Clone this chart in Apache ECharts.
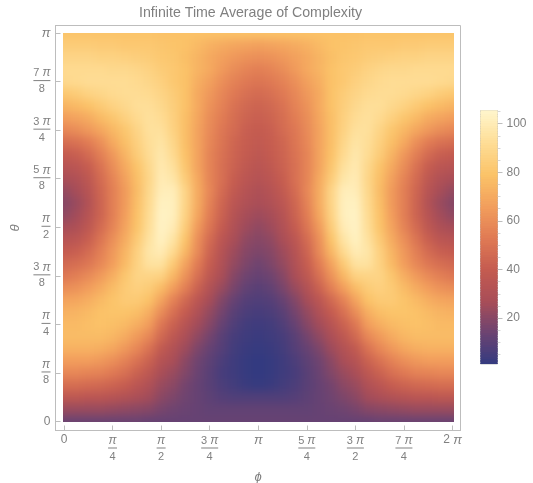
<!DOCTYPE html>
<html><head><meta charset="utf-8">
<style>html,body{margin:0;background:#fff}#c{width:533px;height:483px}</style>
<script src="https://cdn.jsdelivr.net/npm/echarts@6/dist/echarts.min.js"></script></head>
<body><div id="c"></div>
<script>
const titleText='Infinite Time Average of Complexity';
// phi and theta positions in units of pi/8
const phiStep=0.5, thetaStep=0.25;
const phiTicks=[0,2,4,6,8,10,12,14,16];
const thetaTicks=[0,1,2,3,4,5,6,7,8];
const phiLabels=['0','{n|π}\n{l|}\n{d|4}','{n|π}\n{l|}\n{d|2}','{m|3 }{n|π}\n{w|}\n{d|4}','{n2|π}','{m|5 }{n|π}\n{w|}\n{d|4}','{m|3 }{n|π}\n{w|}\n{d|2}','{m|7 }{n|π}\n{w|}\n{d|4}','{m2|2 }{n2|π}'];
const thetaLabels=['0','{n|π}\n{l|}\n{d|8}','{n|π}\n{l|}\n{d|4}','{m|3 }{n|π}\n{w|}\n{d|8}','{n|π}\n{l|}\n{d|2}','{m|5 }{n|π}\n{w|}\n{d|8}','{m|3 }{n|π}\n{w|}\n{d|4}','{m|7 }{n|π}\n{w|}\n{d|8}','{n2|π}'];
const barTicks=[20,40,60,80,100];
const barMinorTicks=[5,10,15,25,30,35,45,50,55,65,70,75,85,90,95,105];
const barLevels=[1,2,3,4,5,6,7,8,9,10,11,12,13,14,15,16,17,18,19,20,21,22,23,24,25,26,27,28,29,30,31,32,33,34,35,36,37,38,39,40,41,42,43,44,45,46,47,48,49,50,51,52,53,54,55,56,57,58,59,60,61,62,63,64,65,66,67,68,69,70,71,72,73,74,75,76,77,78,79,80,81,82,83,84,85,86,87,88,89,90,91,92,93,94,95,96,97,98,99,100,101,102,103,104,105,106];
const barStops=['#323a80','#6b4372','#a84d58','#c45b50','#e07a54','#f29e5c','#fbc368','#fedd95','#fff5cb'];
// complexity, rows from theta=pi (top) down to theta=0, columns from phi=0 to 2pi
const values=[
[80,80,80,80,80,80,80,80,79,79,79,79,79,79,79,79,79,79,79,79,79,79,79,79,79,80,80,80,80,80,80,80,80],
[84,84,84,83,83,82,82,82,81,80,79,76,73,71,69,68,67,68,69,71,73,76,79,80,81,82,82,82,83,83,84,84,84],
[88,88,88,87,87,86,85,84,82,81,78,74,70,67,64,62,61,62,64,67,70,74,78,81,82,84,85,86,87,87,88,88,88],
[91,91,91,91,90,90,89,87,84,82,79,74,70,65,60,57,55,57,60,65,70,74,79,82,84,87,89,90,90,91,91,91,91],
[90,91,92,92,92,92,91,89,86,82,79,72,67,61,56,53,51,53,56,61,67,72,79,82,86,89,91,92,92,92,92,91,90],
[82,84,87,89,91,92,92,91,88,84,79,70,64,58,53,49,47,49,53,58,64,70,79,84,88,91,92,92,91,89,87,84,82],
[74,76,79,83,87,90,93,93,90,85,79,70,62,56,50,46,44,46,50,56,62,70,79,85,90,93,93,90,87,83,79,76,74],
[66,68,71,76,81,86,91,94,92,86,78,69,60,54,48,44,42,44,48,54,60,69,78,86,92,94,91,86,81,76,71,68,66],
[58,60,64,69,75,81,88,94,94,87,78,68,59,52,47,42,40,42,47,52,59,68,78,87,94,94,88,81,75,69,64,60,58],
[48,50,54,61,70,78,86,93,96,89,78,68,58,51,45,41,39,41,45,51,58,68,78,89,96,93,86,78,70,61,54,50,48],
[40,42,47,55,64,74,84,92,98,91,79,68,57,50,44,40,37,40,44,50,57,68,79,91,98,92,84,74,64,55,47,42,40],
[34,36,41,50,60,70,80,90,99,94,81,68,57,49,43,38,35,38,43,49,57,68,81,94,99,90,80,70,60,50,41,36,34],
[28,31,37,47,57,67,78,89,100,97,84,70,57,49,41,36,33,36,41,49,57,70,84,97,100,89,78,67,57,47,37,31,28],
[23,27,34,45,55,65,77,90,101,101,88,71,58,47,39,33,30,33,39,47,58,71,88,101,101,90,77,65,55,45,34,27,23],
[20,24,32,44,55,65,78,91,103,102,88,71,56,45,36,31,28,31,36,45,56,71,88,102,103,91,78,65,55,44,32,24,20],
[22,26,34,44,55,66,79,92,104,102,87,69,54,43,33,27,25,27,33,43,54,69,87,102,104,92,79,66,55,44,34,26,22],
[27,30,37,47,57,68,80,93,104,100,84,65,51,40,31,25,22,25,31,40,51,65,84,100,104,93,80,68,57,47,37,30,27],
[34,36,42,51,61,71,83,95,103,96,80,61,47,36,28,22,20,22,28,36,47,61,80,96,103,95,83,71,61,51,42,36,34],
[40,42,47,55,64,74,86,97,100,91,75,59,44,33,25,20,18,20,25,33,44,59,75,91,100,97,86,74,64,55,47,42,40],
[46,48,52,58,66,76,87,95,95,83,68,54,41,31,23,18,15,18,23,31,41,54,68,83,95,95,87,76,66,58,52,48,46],
[52,55,59,65,72,81,88,88,87,75,62,49,37,28,20,15,13,15,20,28,37,49,62,75,87,88,88,81,72,65,59,55,52],
[60,62,66,71,77,83,86,84,77,66,55,43,32,24,17,12,10,12,17,24,32,43,55,66,77,84,86,83,77,71,66,62,60],
[68,69,72,76,80,83,83,79,68,56,46,36,27,19,13,9,8,9,13,19,27,36,46,56,68,79,83,83,80,76,72,69,68],
[73,74,76,79,80,80,78,72,60,49,40,31,23,16,10,7,6,7,10,16,23,31,40,49,60,72,78,80,80,79,76,74,73],
[76,76,78,79,78,76,72,66,52,43,34,26,20,13,8,5,4,5,8,13,20,26,34,43,52,66,72,76,78,79,78,76,76],
[77,77,77,77,75,71,65,58,46,37,29,22,16,10,6,4,3,4,6,10,16,22,29,37,46,58,65,71,75,77,77,77,77],
[73,73,73,72,69,64,58,50,39,32,25,18,13,9,5,3,2,3,5,9,13,18,25,32,39,50,58,64,69,72,73,73,73],
[66,66,66,64,61,56,50,43,33,28,21,15,11,7,4,2,1,2,4,7,11,15,21,28,33,43,50,56,61,64,66,66,66],
[58,58,57,56,53,49,43,37,28,24,19,14,10,6,4,2,1,2,4,6,10,14,19,24,28,37,43,49,53,56,57,58,58],
[48,48,47,46,44,41,36,31,24,21,16,13,10,7,5,3,2,3,5,7,10,13,16,21,24,31,36,41,44,46,47,48,48],
[37,37,36,36,34,32,29,26,21,18,15,13,11,9,8,8,8,8,8,9,11,13,15,18,21,26,29,32,34,36,36,37,37],
[24,24,24,24,23,22,21,20,17,15,14,13,12,12,12,12,12,12,12,12,12,13,14,15,17,20,21,22,23,24,24,24,24],
[14,14,14,14,14,14,14,13,13,13,13,13,13,13,13,13,13,13,13,13,13,13,13,13,13,13,14,14,14,14,14,14,14]
];
const rows=values.length, cols=values[0].length;
const cells=[];
values.forEach((r,j)=>r.forEach((v,i)=>cells.push([i*phiStep,(rows-1-j)*thetaStep,v])));
const txt='#808080', frame='#bdbdbd', font='"Liberation Sans",Arial,sans-serif';
const line=(w)=>({width:w,height:1,backgroundColor:txt,align:'center'});
const rich={
 n:{fontFamily:font,fontStyle:'italic',fontSize:12,color:txt,align:'center',height:14,lineHeight:14},
 m:{fontFamily:font,fontSize:11,color:txt,align:'center',height:14,lineHeight:14},
 n2:{fontFamily:font,fontStyle:'italic',fontSize:13,color:txt},
 m2:{fontFamily:font,fontSize:12,color:txt},
 d:{fontFamily:font,fontSize:11,color:txt,align:'center',height:16,lineHeight:16},
 l:line(9),
 w:line(17)
};
const lblFrom=(ticks,labels)=>v=>{const i=ticks.indexOf(v);return i<0?'':labels[i];};
const chart=echarts.init(document.getElementById('c'),null,{renderer:'canvas'});
const rectOf=(params,api)=>{
 const p=api.coord([api.value(0),api.value(1)]);
 const s=api.size([phiStep,thetaStep]);
 let x0=p[0]-s[0]/2,x1=p[0]+s[0]/2,y0=p[1]-s[1]/2,y1=p[1]+s[1]/2;
 if(api.value(0)===0)x0-=25;
 if(api.value(0)===(cols-1)*phiStep)x1+=25;
 if(api.value(1)===0)y1+=25;
 if(api.value(1)===(rows-1)*thetaStep)y0-=25;
 return {type:'rect',shape:{x:x0,y:y0,width:x1-x0+1,height:y1-y0+1},style:{fill:api.visual('color')}};
};
const barRect=(params,api)=>{
 const p=api.coord([0,api.value(1)]);
 const r=params.coordSys;
 const h=api.size([0,1])[1];
 const top=Math.floor(p[1]-h/2);
 return {type:'rect',shape:{x:r.x,y:top,width:r.width,height:Math.ceil(h)+1},style:{fill:api.visual('color')}};
};
chart.setOption({
 animation:false,
 title:{text:titleText,left:139,top:6,zlevel:1,padding:0,textStyle:{fontFamily:font,fontWeight:'normal',fontSize:14.2,color:txt}},
 grid:[
  {left:55.5,top:25.5,width:405,height:405,show:true,borderColor:frame,borderWidth:1,backgroundColor:'transparent',zlevel:1,outerBoundsMode:'none',containLabel:false},
  {left:480.5,top:110.5,width:17,height:253.5,show:true,borderColor:'rgba(150,150,150,0.6)',borderWidth:1,backgroundColor:'transparent',zlevel:1,outerBoundsMode:'none',containLabel:false}
 ],
 xAxis:[
  {type:'value',gridIndex:0,min:-0.35,max:16.33,zlevel:1,splitLine:{show:false},
   name:'ϕ',nameLocation:'middle',nameGap:40,nameTextStyle:{fontFamily:font,fontStyle:'italic',fontSize:13,color:txt},
   axisLine:{show:true,onZero:false,lineStyle:{color:frame}},
   axisTick:{show:true,inside:true,length:5,customValues:phiTicks,lineStyle:{color:frame}},
   axisLabel:{show:true,margin:3,customValues:phiTicks,formatter:lblFrom(phiTicks,phiLabels),fontFamily:font,fontSize:12,color:txt,rich,hideOverlap:false}},
  {type:'value',gridIndex:1,min:0,max:1,show:false,zlevel:1}
 ],
 yAxis:[
  {type:'value',gridIndex:0,min:-0.185,max:8.155,zlevel:1,splitLine:{show:false},
   name:'θ',nameLocation:'middle',nameGap:33,nameRotate:90,nameTextStyle:{fontFamily:font,fontStyle:'italic',fontSize:13,color:txt},
   axisLine:{show:true,onZero:false,lineStyle:{color:frame}},
   axisTick:{show:true,inside:true,length:5,customValues:thetaTicks,lineStyle:{color:frame}},
   axisLabel:{show:true,margin:5,customValues:thetaTicks,formatter:lblFrom(thetaTicks,thetaLabels),fontFamily:font,fontSize:12,color:txt,rich,hideOverlap:false}},
  {type:'value',gridIndex:1,position:'right',min:1.1,max:105.4,zlevel:1,splitLine:{show:false},
   axisLine:{show:false,onZero:false},
   axisTick:{show:true,length:5,customValues:barTicks,lineStyle:{color:frame}},
   axisLabel:{show:true,margin:9,customValues:barTicks,fontFamily:font,fontSize:12,color:txt}},
  {type:'value',gridIndex:1,position:'right',min:1.1,max:105.4,zlevel:1,splitLine:{show:false},
   axisLine:{show:false,onZero:false},
   axisTick:{show:true,length:3,customValues:barMinorTicks,lineStyle:{color:'#d6d6d6'}},
   axisLabel:{show:false}}
 ],
 visualMap:{type:'continuous',show:false,min:1.1,max:105.4,dimension:2,seriesIndex:[0,1],inRange:{color:barStops}},
 series:[
  {type:'custom',coordinateSystem:'cartesian2d',xAxisIndex:0,yAxisIndex:0,zlevel:0,silent:true,
   renderItem:rectOf,encode:{x:0,y:1,tooltip:2},data:cells},
  {type:'custom',coordinateSystem:'cartesian2d',xAxisIndex:1,yAxisIndex:1,zlevel:1,silent:true,clip:true,
   renderItem:barRect,encode:{x:0,y:1},data:barLevels.map(v=>[0,v,v])}
 ]
});
const canv=chart.getDom().querySelectorAll('canvas')[0];
const tl=chart.convertToPixel({gridIndex:0},[0,8]), br=chart.convertToPixel({gridIndex:0},[16,0]);
canv.style.filter='blur(4.5px)';
canv.style.clipPath=`inset(${tl[1]}px ${533-br[0]-1}px ${483-br[1]}px ${tl[0]}px)`;
</script></body></html>
